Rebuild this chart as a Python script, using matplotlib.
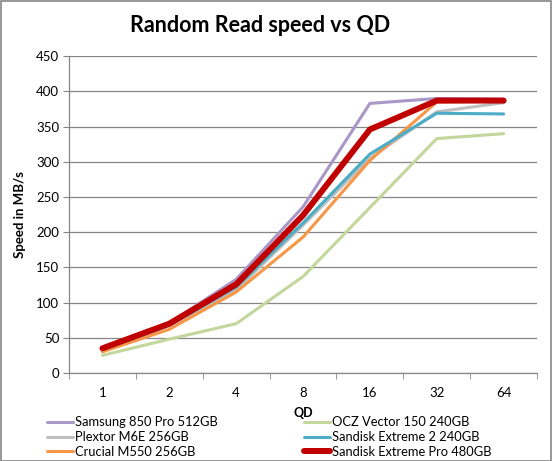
import matplotlib.pyplot as plt
from matplotlib.patches import Rectangle

# --- data ---
qd_labels = ["1", "2", "4", "8", "16", "32", "64"]

samsung_850 = [35, 71, 133, 236, 383, 390, 389]
plextor_m6e = [32, 67, 118, 210, 305, 371, 384]
crucial_m550 = [30, 62, 115, 193, 302, 385, 387]
ocz_vector = [25, 48, 70, 137, 235, 333, 340]
sandisk_e2 = [33, 68, 122, 213, 311, 369, 368]
sandisk_pro = [35, 70, 126, 224, 346, 387, 387]

series = [
    ("Samsung 850 Pro 512GB", samsung_850, "#A997C7", 2.2),
    ("Plextor M6E 256GB", plextor_m6e, "#BFBFBF", 2.2),
    ("Crucial M550 256GB", crucial_m550, "#F79646", 2.2),
    ("OCZ Vector 150 240GB", ocz_vector, "#C3D69B", 2.2),
    ("Sandisk Extreme 2 240GB", sandisk_e2, "#4BACC6", 2.2),
    ("Sandisk Extreme Pro 480GB", sandisk_pro, "#C00000", 4.3),
]

plt.rcParams['font.family'] = ['Lato', 'DejaVu Sans']

fig = plt.figure(figsize=(5.52, 4.61), dpi=100)
ax = fig.add_axes([0.125, 0.191, 0.848, 0.687])

x = list(range(len(qd_labels)))
for name, vals, color, lw in series:
    ax.plot(x, vals, color=color, linewidth=lw, label=name, solid_capstyle='round')

ax.set_xlim(-0.5, len(qd_labels) - 0.5)
ax.set_ylim(0, 450)
ax.set_yticks(range(0, 451, 50))
ax.set_xticks(x)
ax.set_xticklabels(qd_labels)
ax.set_xticks([i - 0.5 for i in range(len(qd_labels) + 1)], minor=True)
ax.tick_params(axis='x', which='major', length=0, pad=10, labelsize=9.5)
ax.tick_params(axis='x', which='minor', length=4, color='#868686', direction='out')
ax.tick_params(axis='y', length=4, color='#868686', labelsize=9.5, pad=3)

ax.grid(axis='y', color='#868686', linewidth=0.9)
ax.set_axisbelow(True)
for s in ['top', 'right']:
    ax.spines[s].set_visible(False)
for s in ['left', 'bottom']:
    ax.spines[s].set_color('#868686')
    ax.spines[s].set_linewidth(0.9)

ax.set_xlabel("QD", fontsize=9, fontweight='bold', labelpad=6)
ax.set_ylabel("Speed in MB/s", fontsize=9.5, fontweight='bold', labelpad=7)
fig.text(0.471, 0.945, "Random Read speed vs QD", fontsize=15.5, fontweight='bold',
         ha='center', va='center')

fig.legend(*ax.get_legend_handles_labels(), loc='upper left',
           bbox_to_anchor=(0.085, 0.097), bbox_transform=fig.transFigure,
           ncol=2, frameon=False, fontsize=9.3, handlelength=2.0,
           columnspacing=6.7, labelspacing=0.22, handletextpad=0.15,
           borderpad=0, borderaxespad=0)

fig.patches.append(Rectangle((0.001, 0.001), 0.997, 0.997, transform=fig.transFigure,
                             fill=False, edgecolor='#868686', linewidth=1.2))

fig.savefig("out.png", dpi=100)
